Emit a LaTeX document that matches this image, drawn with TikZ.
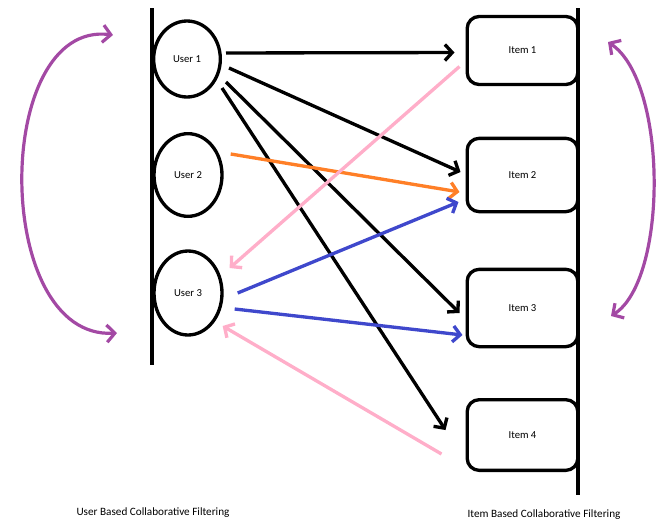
\documentclass[tikz,border=0pt]{standalone}
\usepackage{fontspec}
\setmainfont{Carlito}
\usetikzlibrary{shapes.geometric,arrows.meta,calc}
\definecolor{pblack}{HTML}{000000}
\definecolor{porange}{HTML}{FF7F27}
\definecolor{pblue}{HTML}{3F48CC}
\definecolor{ppink}{HTML}{FFAEC9}
\definecolor{ppurple}{HTML}{A349A4}
\tikzset{
  user/.style={ellipse,draw,line width=2.5pt,inner sep=0pt,font=\fontsize{8}{9}\selectfont},
  item/.style={rectangle,draw,line width=2.5pt,rounded corners=9pt,minimum width=83pt,inner sep=0pt,font=\fontsize{8}{9}\selectfont},
  link/.style={line width=2.5pt,-{Straight Barb[length=5.5pt,width=12pt,line width=2.5pt]}},
  sidebar/.style={line width=2.4pt},
  loop/.style={ppurple,line width=2.4pt,{Straight Barb[length=6pt,width=13pt,line width=2.4pt]}-{Straight Barb[length=6pt,width=13pt,line width=2.4pt]}},
  caption/.style={font=\fontsize{8.4}{10}\selectfont}
}
\begin{document}
\begin{tikzpicture}[x=0.75pt,y=-0.75pt]
\useasboundingbox (0,0) rectangle (662,522);
% vertical bars
\draw[sidebar] (152,8) -- (152,365);
\draw[sidebar] (578,8) -- (578,495);
% users
\node[user,minimum width=50pt,minimum height=57pt] (u1) at (187,59) {User 1};
\node[user,minimum width=51pt,minimum height=62pt] (u2) at (188,175) {User 2};
\node[user,minimum width=51pt,minimum height=63pt] (u3) at (188,293) {User 3};
% items
\node[item,minimum height=51pt] (i1) at (522.5,50.5) {Item 1};
\node[item,minimum height=55pt] (i2) at (522.5,175) {Item 2};
\node[item,minimum height=58pt] (i3) at (522.5,308) {Item 3};
\node[item,minimum height=53pt] (i4) at (522.5,435) {Item 4};
% black links
\draw[link,pblack] ($(u1.east)+(4,-6)$) -- ($(i1.west)+(-11,2)$);
\draw[link,pblack] ($(u1.east)+(7,9)$) -- ($(i2.west)+(-5,-3)$);
\draw[link,pblack] ($(u1.east)+(4,23)$) -- ($(i3.west)+(-6,5)$);
\draw[link,pblack] ($(u1.east)+(0,29)$) -- ($(i4.west)+(-20,-5)$);
% orange
\draw[link,porange] ($(u2.east)+(7,-21)$) -- ($(i2.west)+(-6,17)$);
% blue
\draw[link,pblue] ($(u3.east)+(14,0)$) -- ($(i2.west)+(-7,27)$);
\draw[link,pblue] ($(u3.east)+(11,16)$) -- ($(i3.west)+(-3,27)$);
% pink
\draw[link,ppink] ($(i1.west)+(-6,16)$) -- ($(u3.east)+(6,-25)$);
\draw[link,ppink] ($(i4.west)+(-24,19)$) -- ($(u3.east)+(-1,33)$);
% purple loops
\draw[loop] (113,35) .. controls (-8,20) and (-8,340) .. (117,333);
\draw[loop] (608,42) .. controls (668,82) and (668,280) .. (611,316);
% captions
\node[caption] (c1) at (153,513) {User Based Collaborative Filtering};
\node[caption] (c2) at (544,515) {Item Based Collaborative Filtering};
\end{tikzpicture}
\end{document}
